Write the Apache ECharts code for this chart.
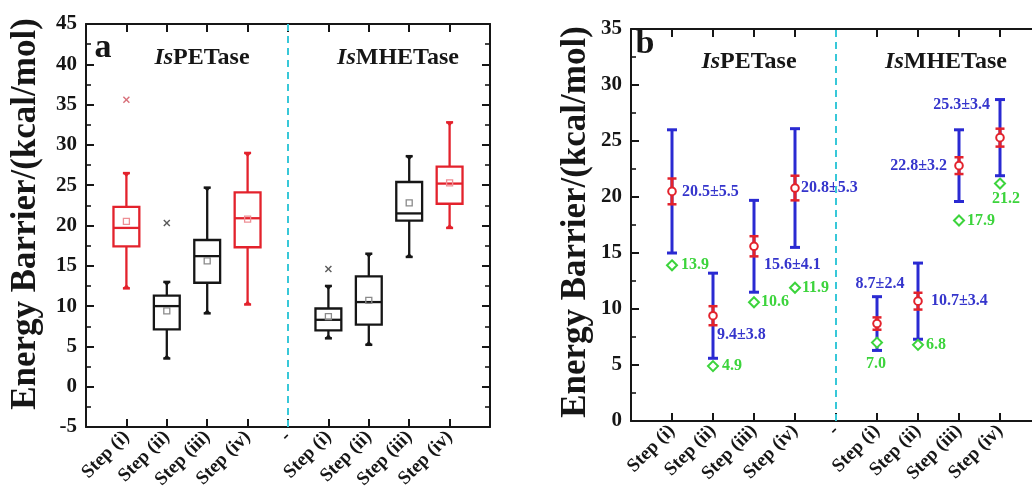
<!DOCTYPE html>
<html>
<head>
<meta charset="utf-8">
<script src="https://cdn.jsdelivr.net/npm/echarts@6/dist/echarts.min.js"></script>
<style>
  html, body { margin: 0; padding: 0; overflow: hidden; background: #fff; }
  #chart { width: 1060px; height: 502px; }
</style>
</head>
<body>
<div id="chart"></div>
<script>
// Category labels along both x axes; "-" marks the split between the two enzymes
const categories = ['Step (i)', 'Step (ii)', 'Step (iii)', 'Step (iv)', '-', 'Step (i)', 'Step (ii)', 'Step (iii)', 'Step (iv)'];
// position of each reaction step on the x scale (IsPETase i-iv, IsMHETase i-iv)
const stepPos = [1, 2, 3, 4, 6, 7, 8, 9];

// (a) distribution of energy barriers, kcal/mol
const whiskerLow  = [12.2, 3.5, 9.1, 10.2, 6.0, 5.2, 16.1, 19.7];
const quartile1   = [17.4, 7.1, 12.9, 17.3, 7.0, 7.7, 20.6, 22.7];
const medians     = [19.7, 10.0, 16.2, 20.9, 8.3, 10.5, 21.5, 25.2];
const quartile3   = [22.3, 11.3, 18.2, 24.1, 9.7, 13.7, 25.4, 27.3];
const whiskerHigh = [26.5, 13.0, 24.7, 29.0, 12.5, 16.5, 28.6, 32.8];
const outlierPos  = [1, 2, 6];
const outlierVal  = [35.6, 20.3, 14.6];

// (b) mean ± standard deviation, standard error and lowest barrier
const means   = [20.5, 9.4, 15.6, 20.8, 8.7, 10.7, 22.8, 25.3];
const stdDevs = [5.5, 3.8, 4.1, 5.3, 2.4, 3.4, 3.2, 3.4];
const stdErrs = [1.15, 0.85, 0.9, 1.1, 0.55, 0.75, 0.75, 0.8];
const minima  = [13.9, 4.9, 10.6, 11.9, 7.0, 6.8, 17.9, 21.2];

// ---------------------------------------------------------------- styling
const FONT = '"Liberation Serif", "Times New Roman", serif';
const INK = '#161616';
const RED = '#e3222c';
const BLUE = '#2a2ad2';
const BLUE_TXT = '#3535cc';
const GREEN = '#3cd43c';
const CYAN = '#38c8d8';
const redSteps = [true, false, false, true, false, false, false, true];

// where the "mean±sd" and minimum labels sit relative to their marks (px)
const statLabelPlace = [
  { dx: 10, dy: 0, align: 'left' },
  { dx: 4, dy: 19, align: 'left' },
  { dx: 10, dy: 19, align: 'left' },
  { dx: 6, dy: 0, align: 'left' },
  { dx: 3, dy: -40, align: 'center' },
  { dx: 13, dy: 0, align: 'left' },
  { dx: -12, dy: 0, align: 'right' },
  { dx: -10, dy: -33, align: 'right' }
];
const minLabelPlace = [
  { dx: 9, dy: 0, align: 'left' },
  { dx: 9, dy: 0, align: 'left' },
  { dx: 7, dy: 0, align: 'left' },
  { dx: 7, dy: 0, align: 'left' },
  { dx: -1, dy: 21, align: 'center' },
  { dx: 8, dy: 0, align: 'left' },
  { dx: 8, dy: 0, align: 'left' },
  { dx: 6, dy: 15, align: 'center' }
];

const boxData = stepPos.map((p, i) => [p, whiskerLow[i], quartile1[i], medians[i], quartile3[i], whiskerHigh[i], means[i]]);
const outlierData = outlierPos.map((p, i) => [p, outlierVal[i]]);
const statData = stepPos.map((p, i) => [p, means[i], stdDevs[i], stdErrs[i], minima[i]]);

function line(x1, y1, x2, y2, stroke, w) {
  return { type: 'line', shape: { x1, y1, x2, y2 }, style: { stroke, lineWidth: w } };
}

function renderBox(params, api) {
  const x = api.value(0);
  const yOf = v => api.coord([x, v])[1];
  const cx = api.coord([x, 0])[0];
  const bw = api.size([1, 0])[0] * 0.64;
  const hw = bw / 2;
  const red = redSteps[params.dataIndex];
  const c = red ? RED : INK;
  const meanC = red ? '#ee8f95' : '#8a8a8a';
  const lo = yOf(api.value(1)), q1 = yOf(api.value(2)), md = yOf(api.value(3));
  const q3 = yOf(api.value(4)), hi = yOf(api.value(5)), mn = yOf(api.value(6));
  const lw = 2.3;
  return {
    type: 'group',
    children: [
      line(cx, hi, cx, q3, c, lw),
      line(cx, q1, cx, lo, c, lw),
      line(cx - 3.5, hi, cx + 3.5, hi, c, 2.5),
      line(cx - 3.5, lo, cx + 3.5, lo, c, 2.5),
      { type: 'polygon', shape: { points: [[cx - 3.5, hi], [cx + 3.5, hi], [cx, hi + 4]] }, style: { fill: c } },
      { type: 'polygon', shape: { points: [[cx - 3.5, lo], [cx + 3.5, lo], [cx, lo - 4]] }, style: { fill: c } },
      { type: 'rect', shape: { x: cx - hw, y: q3, width: bw, height: q1 - q3 }, style: { fill: '#fff', stroke: c, lineWidth: lw } },
      line(cx - hw, md, cx + hw, md, c, lw),
      { type: 'rect', shape: { x: cx - 3, y: mn - 3, width: 6, height: 6 }, style: { fill: 'none', stroke: meanC, lineWidth: 1.3 } }
    ]
  };
}

function renderOutlier(params, api) {
  const p = api.coord([api.value(0), api.value(1)]);
  const c = params.dataIndex === 0 ? '#d8717b' : '#5a5a5a';
  const s = 3;
  return {
    type: 'group',
    children: [
      line(p[0] - s, p[1] - s, p[0] + s, p[1] + s, c, 1.4),
      line(p[0] - s, p[1] + s, p[0] + s, p[1] - s, c, 1.4)
    ]
  };
}

function txt(x, y, text, fill, align) {
  return {
    type: 'text', x, y,
    style: {
      text, fill, align, verticalAlign: 'middle',
      font: 'bold 16px ' + FONT
    }
  };
}

function renderStat(params, api) {
  const i = params.dataIndex;
  const x = api.value(0);
  const m = api.value(1), sd = api.value(2), se = api.value(3), mi = api.value(4);
  const yOf = v => api.coord([x, v])[1];
  const cx = api.coord([x, 0])[0];
  const yTop = yOf(m + sd), yBot = yOf(m - sd), yM = yOf(m);
  const eTop = yOf(m + se), eBot = yOf(m - se), yMin = yOf(mi);
  const sp = statLabelPlace[i], mp = minLabelPlace[i];
  const d = 5;
  return {
    type: 'group',
    children: [
      line(cx, yTop, cx, yBot, BLUE, 3),
      line(cx - 5, yTop, cx + 5, yTop, BLUE, 3),
      line(cx - 5, yBot, cx + 5, yBot, BLUE, 3),
      line(cx, eTop, cx, eBot, RED, 3),
      line(cx - 4.5, eTop, cx + 4.5, eTop, RED, 2.5),
      line(cx - 4.5, eBot, cx + 4.5, eBot, RED, 2.5),
      { type: 'circle', shape: { cx, cy: yM, r: 3.8 }, style: { fill: '#fff', stroke: RED, lineWidth: 2 } },
      { type: 'polygon', shape: { points: [[cx, yMin - d], [cx + d, yMin], [cx, yMin + d], [cx - d, yMin]] },
        style: { fill: '#fff', stroke: GREEN, lineWidth: 2 } },
      txt(cx + sp.dx, yM + sp.dy, m.toFixed(1) + '±' + sd.toFixed(1), BLUE_TXT, sp.align),
      txt(cx + mp.dx, yMin + mp.dy, mi.toFixed(1), GREEN, mp.align)
    ]
  };
}

function xAxes(grid) {
  const base = {
    gridIndex: grid, type: 'value', min: 0, max: 10, interval: 1,
    axisLine: { onZero: false, lineStyle: { color: INK, width: 2 } },
    axisTick: { inside: true, length: 8, lineStyle: { color: INK, width: 2 } },
    splitLine: { show: false }
  };
  return [
    Object.assign({}, base, {
      position: 'bottom',
      axisLabel: {
        rotate: 45, margin: 7, color: INK, fontFamily: FONT, fontWeight: 'bold', fontSize: 19,
        formatter: v => (v >= 1 && v <= categories.length ? categories[v - 1] : '')
      }
    }),
    Object.assign({}, base, { position: 'top', axisLabel: { show: false } })
  ];
}

function yAxes(grid, min, max) {
  const base = {
    gridIndex: grid, type: 'value', min, max, interval: 5,
    axisLine: { show: true, onZero: false, lineStyle: { color: INK, width: 2 } },
    axisTick: { inside: true, length: 8, lineStyle: { color: INK, width: 2 } },
    minorTick: { show: true, splitNumber: 2, length: 5, lineStyle: { color: INK, width: 1.6 } },
    splitLine: { show: false }
  };
  return [
    Object.assign({}, base, {
      position: 'left',
      axisLabel: { margin: 9, color: INK, fontFamily: FONT, fontWeight: 'bold', fontSize: 21 }
    }),
    Object.assign({}, base, { position: 'right', axisLabel: { show: false } })
  ];
}

function divider(xi, yi) {
  return {
    type: 'line', xAxisIndex: xi, yAxisIndex: yi, data: [], silent: true,
    markLine: {
      silent: true, symbol: 'none', label: { show: false }, animation: false,
      lineStyle: { color: CYAN, type: [7, 5], width: 2 },
      data: [{ xAxis: 5 }]
    }
  };
}

function heading(x, y, bold, fontSize) {
  return {
    type: 'text', x, y,
    style: {
      text: '{i|Is}{n|' + bold + '}',
      align: 'center', verticalAlign: 'middle',
      rich: {
        i: { fontFamily: FONT, fontWeight: 'bold', fontStyle: 'italic', fontSize, fill: INK },
        n: { fontFamily: FONT, fontWeight: 'bold', fontSize, fill: INK }
      }
    }
  };
}

function plainText(x, y, text, size, rotation) {
  return {
    type: 'text', x, y, rotation: rotation || 0,
    style: { text, fill: INK, font: 'bold ' + size + 'px ' + FONT, align: 'center', verticalAlign: 'middle' }
  };
}

const chart = echarts.init(document.getElementById('chart'), null, { renderer: 'canvas' });
chart.setOption({
  animation: false,
  backgroundColor: '#fff',
  grid: [
    { left: 86, top: 24, width: 404, height: 403 },
    { left: 631, top: 29, width: 410, height: 392 }
  ],
  xAxis: xAxes(0).concat(xAxes(1)),
  yAxis: yAxes(0, -5, 45).concat(yAxes(1, 0, 35)),
  series: [
    divider(0, 0),
    { type: 'custom', xAxisIndex: 0, yAxisIndex: 0, data: boxData, renderItem: renderBox, z: 3 },
    { type: 'custom', xAxisIndex: 0, yAxisIndex: 0, data: outlierData, renderItem: renderOutlier, z: 3 },
    divider(2, 2),
    { type: 'custom', xAxisIndex: 2, yAxisIndex: 2, data: statData, renderItem: renderStat, z: 3 }
  ],
  graphic: [
    plainText(26, 214, 'Energy Barrier/(kcal/mol)', 35, Math.PI / 2),
    plainText(576, 222, 'Energy Barrier/(kcal/mol)', 35, Math.PI / 2),
    plainText(103, 48, 'a', 34),
    plainText(645, 44, 'b', 34),
    heading(202, 58, 'PETase', 24),
    heading(398, 58, 'MHETase', 24),
    heading(749, 62, 'PETase', 24),
    heading(946, 62, 'MHETase', 24)
  ]
});
</script>
</body>
</html>
